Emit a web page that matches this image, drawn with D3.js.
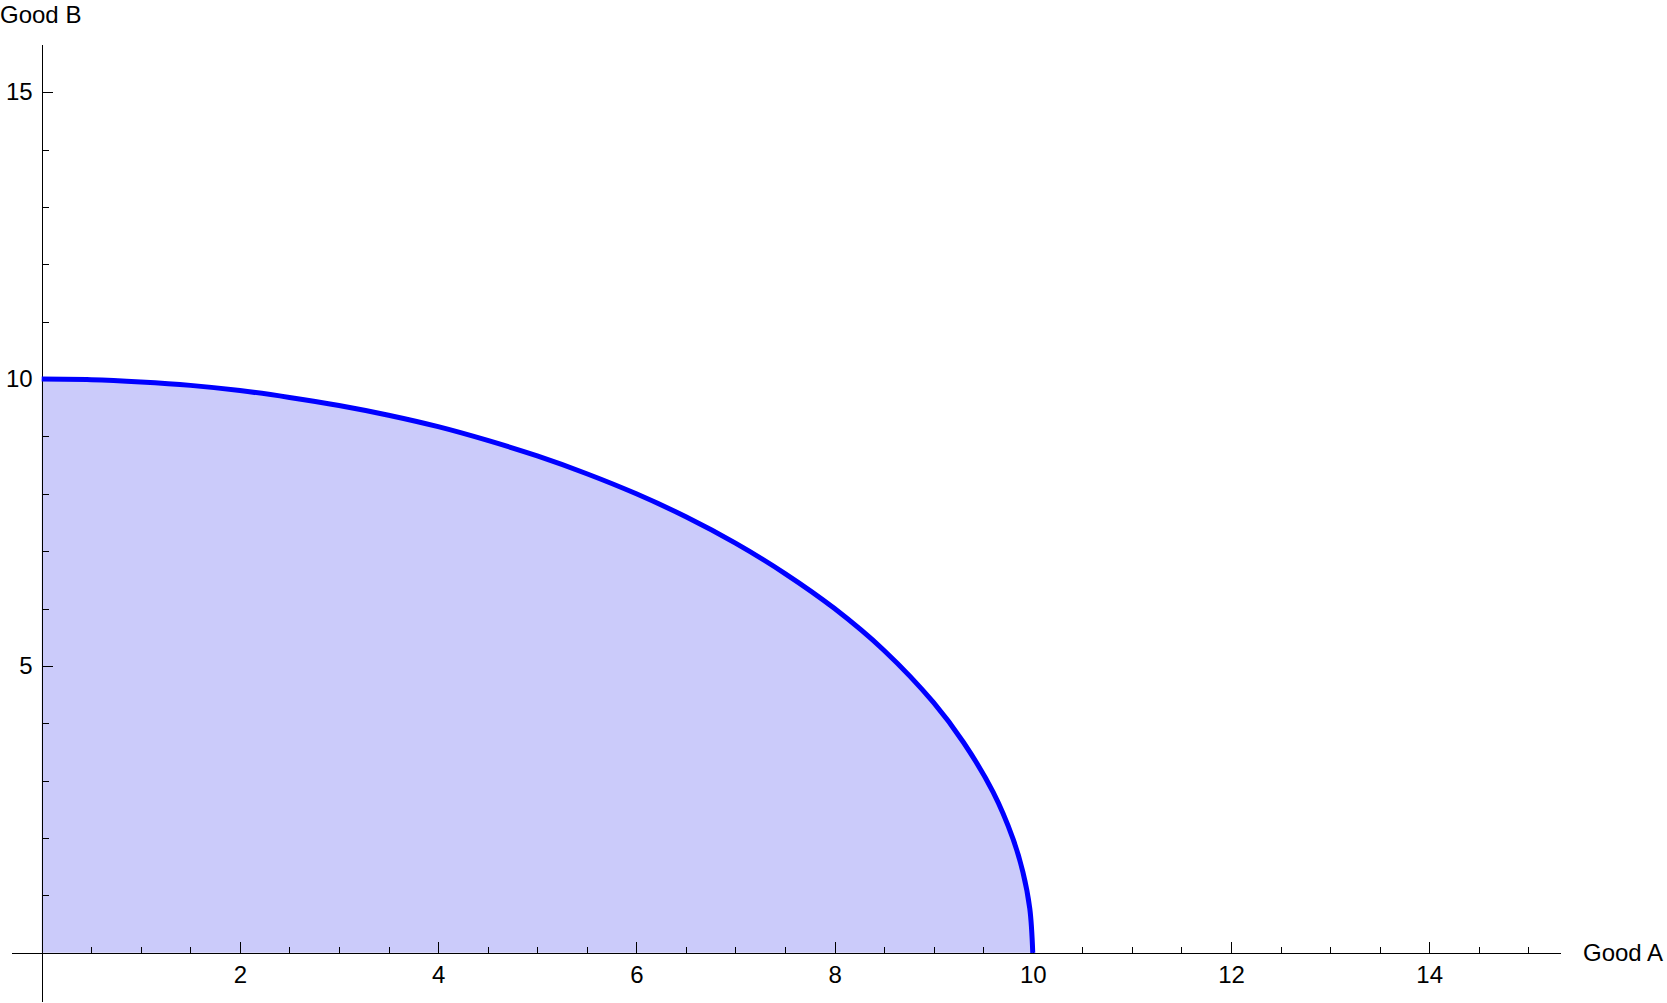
<!DOCTYPE html>
<html>
<head>
<meta charset="utf-8">
<title>Good A vs Good B</title>
<script src="https://cdn.jsdelivr.net/npm/d3@7"></script>
<style>
  body { margin: 0; background: #fff; }
  svg text { font-family: "Liberation Sans", Arial, sans-serif; font-size: 24px; fill: #000; }
  .axis path, .axis line { stroke: #000; stroke-width: 1; shape-rendering: crispEdges; }
</style>
</head>
<body>
<div id="chart"></div>
<script>
// points
var goodA = [0, 0.5, 1, 1.5, 2, 2.5, 3, 3.5, 4, 4.5, 5, 5.5, 6, 6.5, 7, 7.5, 8, 8.5, 9, 9.3, 9.6, 9.8, 9.9, 9.97, 10];
var goodB = [10, 9.99, 9.95, 9.89, 9.8, 9.68, 9.54, 9.37, 9.17, 8.93, 8.66, 8.35, 8.0, 7.6, 7.14, 6.61, 6.0, 5.27, 4.36, 3.67, 2.8, 1.99, 1.41, 0.77, 0];

var xMajor = [2, 4, 6, 8, 10, 12, 14];
var xMinor = [0.5, 1, 1.5, 2.5, 3, 3.5, 4.5, 5, 5.5, 6.5, 7, 7.5, 8.5, 9, 9.5, 10.5, 11, 11.5, 12.5, 13, 13.5, 14.5, 15];
var yMajor = [5, 10, 15];
var yMinor = [1, 2, 3, 4, 6, 7, 8, 9, 11, 12, 13, 14];

var width = 1667, height = 1003;

var svg = d3.select("#chart").append("svg")
  .attr("width", width)
  .attr("height", height);

var x = d3.scaleLinear().domain([-0.31, 15.32]).range([11, 1560]);
var y = d3.scaleLinear().domain([-0.84, 15.84]).range([1001, 44]);

var pts = goodA.map(function(a, i) { return [a, goodB[i]]; });
var curve = d3.curveCatmullRom.alpha(0.5);

// shaded region under the frontier
var area = d3.area()
  .x(function(d) { return x(d[0]); })
  .y0(y(0))
  .y1(function(d) { return y(d[1]); })
  .curve(curve);

svg.append("path")
  .datum(pts)
  .attr("d", area)
  .attr("fill", "#cbcbfa")
  .attr("stroke", "none");

// x axis (ticks point up, into the plot)
svg.append("g")
  .attr("class", "axis")
  .attr("transform", "translate(0," + y(0) + ")")
  .call(d3.axisBottom(x).tickValues(xMinor).tickSize(-6).tickSizeOuter(0).tickFormat(""));

var gx = svg.append("g")
  .attr("class", "axis")
  .attr("transform", "translate(0," + y(0) + ")")
  .call(d3.axisBottom(x).tickValues(xMajor).tickSize(-11).tickSizeOuter(0).tickPadding(13));
gx.selectAll("text").style("font-size", "24px").attr("fill", "#000");

// y axis
svg.append("g")
  .attr("class", "axis")
  .attr("transform", "translate(" + x(0) + ",0)")
  .call(d3.axisLeft(y).tickValues(yMinor).tickSize(-7).tickSizeOuter(0).tickFormat(""));

var gy = svg.append("g")
  .attr("class", "axis")
  .attr("transform", "translate(" + x(0) + ",0)")
  .call(d3.axisLeft(y).tickValues(yMajor).tickSize(-11).tickSizeOuter(0).tickPadding(9));
gy.selectAll("text").style("font-size", "24px").attr("fill", "#000");

// frontier curve
var line = d3.line()
  .x(function(d) { return x(d[0]); })
  .y(function(d) { return y(d[1]); })
  .curve(curve);

svg.append("path")
  .datum(pts)
  .attr("d", line)
  .attr("fill", "none")
  .attr("stroke", "#0000ff")
  .attr("stroke-width", 5);

// axis labels
svg.append("text")
  .attr("x", 1583)
  .attr("y", y(0))
  .attr("dy", "0.36em")
  .text("Good A");

svg.append("text")
  .attr("x", 0)
  .attr("y", 23)
  .text("Good B");
</script>
</body>
</html>
